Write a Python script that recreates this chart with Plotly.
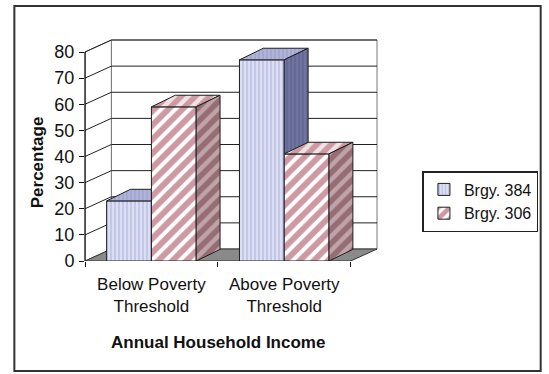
import plotly.graph_objects as go

# ---------------- data ----------------
categories = ["Below Poverty<br>Threshold", "Above Poverty<br>Threshold"]
series_names = ["Brgy. 384", "Brgy. 306"]
brgy_384 = [23, 77]
brgy_306 = [59, 41]
y_ticks = [0, 10, 20, 30, 40, 50, 60, 70, 80]
y_title = "Percentage"
x_title = "Annual Household Income"

# ---------------- geometry (pixels) ----------------
W, H = 549, 374
PX_LEFT, PX_FRONT_RIGHT = 85, 352       # front floor edge
PX_ZERO, PX_TOP_VAL = 261, 52           # y pixel of 0 and of max tick
YMAX = y_ticks[-1]
kx = (PX_FRONT_RIGHT - PX_LEFT) / len(categories)   # px per category unit
ky = (PX_ZERO - PX_TOP_VAL) / YMAX                  # px per value unit

WALL_DX, WALL_DY = 26.5 / kx, 12.0 / ky             # wall depth offset (data units)
BAR_DX, BAR_DY = 24.0 / kx, 11.6 / ky               # bar depth offset
BAR_W = 45.0 / kx
PAD = 3

x_lo, x_hi = -0.5, len(categories) - 0.5
xrange = [x_lo, x_hi + WALL_DX + PAD / kx]
yrange = [0, YMAX + WALL_DY + PAD / ky]
plot_w = (xrange[1] - xrange[0]) * kx
plot_h = (yrange[1] - yrange[0]) * ky
m_l = PX_LEFT
m_t = PX_ZERO - plot_h
m_b = H - PX_ZERO
m_r = W - PX_LEFT - plot_w

def px_to_paper_x(px):
    return (px - m_l) / plot_w

def px_to_paper_y(py):
    return (PX_ZERO - py) / plot_h

EDGE = "#1e1e1e"
FONT = "Liberation Sans"

blue_front = dict(shape="|", size=4, solidity=0.35, fgcolor="#969cca", bgcolor="#dcdff4")
blue_top = dict(shape="|", size=4, solidity=0.35, fgcolor="#8c92c0", bgcolor="#b0b4da")
blue_side = dict(shape="|", size=4, solidity=0.35, fgcolor="#4e5382", bgcolor="#70759f")
red_front = dict(shape="/", size=10, solidity=0.6, fgcolor="#9c3446", bgcolor="#ffffff")
red_top = dict(shape="/", size=10, solidity=0.55, fgcolor="#a85060", bgcolor="#f2e2e4")
red_side = dict(shape="/", size=10, solidity=0.55, fgcolor="#703540", bgcolor="#bea4a8")

fig = go.Figure()

# front faces as bars
xs = list(range(len(categories)))
fig.add_trace(go.Bar(
    x=xs, y=brgy_384, name=series_names[0], width=[BAR_W] * len(xs), offset=-BAR_W,
    marker=dict(color="#dcdff4", pattern=blue_front, line=dict(color=EDGE, width=1)),
    legendgroup="a",
))
fig.add_trace(go.Bar(
    x=xs, y=brgy_306, name=series_names[1], width=[BAR_W] * len(xs), offset=0,
    marker=dict(color="#ffffff", pattern=red_front, line=dict(color=EDGE, width=1)),
    legendgroup="b",
))

def poly(xp, yp, pat):
    fig.add_trace(go.Scatter(
        x=xp + [xp[0]], y=yp + [yp[0]], mode="lines", fill="toself",
        fillcolor=pat["bgcolor"], fillpattern=pat,
        line=dict(color=EDGE, width=1), showlegend=False, hoverinfo="skip",
    ))

# blue (front-left) bar: top and side faces, hidden parts removed
for c, b, r in zip(xs, brgy_384, brgy_306):
    x0, x1 = c - BAR_W, c
    if r >= b:
        poly([x0, x1, x1, x0 + BAR_DX], [b, b, b + BAR_DY, b + BAR_DY], blue_top)
    else:
        poly([x0, x1, x1 + BAR_DX, x0 + BAR_DX], [b, b, b + BAR_DY, b + BAR_DY], blue_top)
        poly([x1, x1, x1 + BAR_DX, x1 + BAR_DX], [r, b, b + BAR_DY, r], blue_side)
# red bar: top and side faces
for c, r in zip(xs, brgy_306):
    x0, x1 = c, c + BAR_W
    poly([x0, x1, x1 + BAR_DX, x0 + BAR_DX], [r, r, r + BAR_DY, r + BAR_DY], red_top)
    poly([x1, x1, x1 + BAR_DX, x1 + BAR_DX], [0, r, r + BAR_DY, BAR_DY], red_side)

# walls, floor, gridlines
def path(pts):
    return "M " + " L ".join(f"{x},{y}" for x, y in pts) + " Z"

shapes = []
shapes.append(dict(type="path", xref="x", yref="y", layer="below",
                   path=path([(x_lo + WALL_DX, WALL_DY), (x_hi + WALL_DX, WALL_DY),
                              (x_hi + WALL_DX, YMAX + WALL_DY), (x_lo + WALL_DX, YMAX + WALL_DY)]),
                   fillcolor="white", line=dict(color="#777", width=1)))
shapes.append(dict(type="path", xref="x", yref="y", layer="below",
                   path=path([(x_lo, 0), (x_lo, YMAX), (x_lo + WALL_DX, YMAX + WALL_DY),
                              (x_lo + WALL_DX, WALL_DY)]),
                   fillcolor="white", line=dict(color="#777", width=1)))
shapes.append(dict(type="path", xref="x", yref="y", layer="below",
                   path=path([(x_lo, 0), (x_hi, 0), (x_hi + WALL_DX, WALL_DY), (x_lo + WALL_DX, WALL_DY)]),
                   fillcolor="#8a8a8a", line=dict(color="#333", width=1)))
for v in y_ticks[1:]:
    shapes.append(dict(type="path", xref="x", yref="y", layer="below",
                       path=f"M {x_lo},{v} L {x_lo + WALL_DX},{v + WALL_DY} L {x_hi + WALL_DX},{v + WALL_DY}",
                       line=dict(color="#222", width=1)))
# front value axis line
shapes.append(dict(type="line", xref="paper", yref="y", x0=0, x1=0, y0=0, y1=YMAX,
                   line=dict(color="#111", width=1.3)))
# outer chart border
shapes.append(dict(type="rect", xref="paper", yref="paper",
                   x0=px_to_paper_x(14), x1=px_to_paper_x(543),
                   y0=px_to_paper_y(371), y1=px_to_paper_y(6),
                   line=dict(color="#333", width=2), fillcolor="rgba(0,0,0,0)"))

annotations = [
    dict(text=f"<b>{x_title}</b>", xref="x", yref="paper", x=(x_lo + x_hi) / 2,
         y=px_to_paper_y(342), showarrow=False, xanchor="center", yanchor="middle",
         font=dict(family=FONT, size=17, color="#111")),
    dict(text=f"<b>{y_title}</b>", xref="paper", yref="paper", x=px_to_paper_x(37),
         y=px_to_paper_y(162), showarrow=False, textangle=-90, xanchor="center", yanchor="middle",
         font=dict(family=FONT, size=17, color="#111")),
]

fig.update_layout(
    width=W, height=H,
    margin=dict(l=m_l, r=m_r, t=m_t, b=m_b, pad=0),
    paper_bgcolor="white", plot_bgcolor="rgba(0,0,0,0)",
    font=dict(family=FONT, size=16, color="#111"),
    barmode="overlay",
    shapes=shapes, annotations=annotations,
    xaxis=dict(range=xrange, tickmode="array", tickvals=xs, ticktext=categories,
               ticks="", showgrid=False, zeroline=False, showline=False,
               tickfont=dict(size=17), ticklabelstandoff=11,
               minor=dict(tickmode="array", tickvals=[x_lo + i for i in range(len(categories) + 1)],
                          ticks="outside", ticklen=5, tickcolor="#111", tickwidth=1.2, showgrid=False)),
    yaxis=dict(range=yrange, tickmode="array", tickvals=y_ticks, ticks="outside", ticklen=5,
               tickcolor="#111", tickwidth=1.2, showgrid=False, zeroline=False, showline=False,
               tickfont=dict(size=18), ticklabelstandoff=1),
    legend=dict(x=px_to_paper_x(423), y=px_to_paper_y(171), xanchor="left", yanchor="top",
                bordercolor="#222", borderwidth=1.5, bgcolor="white",
                font=dict(size=16), tracegroupgap=13, traceorder="normal"),
    showlegend=True,
)

fig.write_html("out.html", config={"displayModeBar": False},
               post_script="document.body.style.margin='0';document.body.style.overflow='hidden';")
